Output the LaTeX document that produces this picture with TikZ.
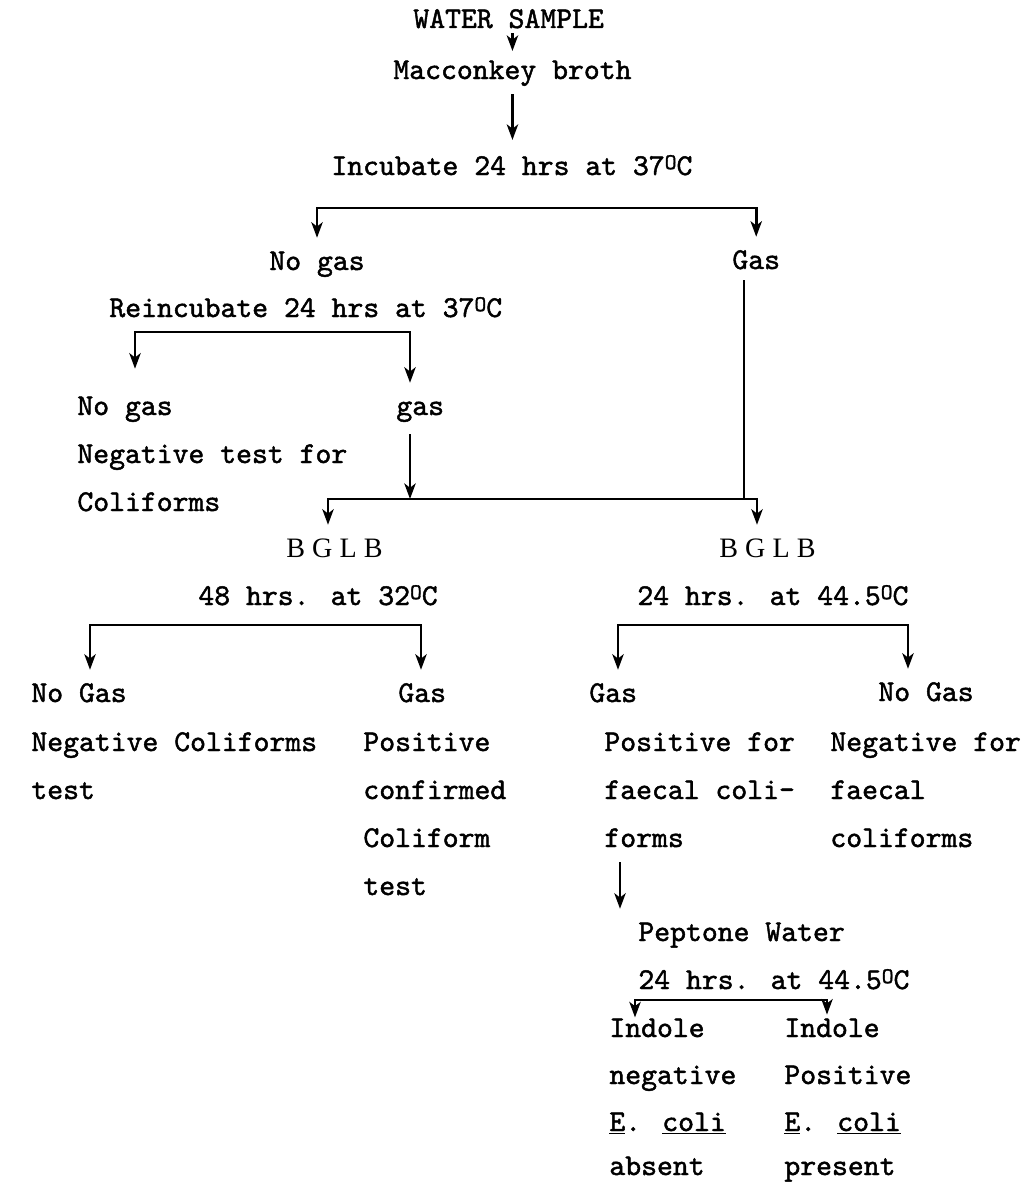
\documentclass[tikz,border=0pt]{standalone}
\usepackage{fontspec}
\usetikzlibrary{arrows.meta}
\newfontfamily\twfont[Extension=.otf, FakeBold=1.5]{lmmono10-regular}
\newfontfamily\rmserif{Liberation Serif}
\newcommand\typew{\twfont\fontsize{21.5}{22}\selectfont}
\newcommand\typer{\rmserif\fontsize{20}{22}\selectfont}
\newcommand\degC{\raisebox{0.45ex}{\fontsize{16}{16}\selectfont O}C}

\begin{document}
\begin{tikzpicture}[
  x=0.025cm, y=-0.025cm,
  txt/.style={anchor=base west, inner xsep=0pt, inner ysep=0.12cm, text height=0.65cm, text depth=0.12cm, font=\typew},
  bglb/.style={txt, font=\typer},
  line width=2pt,
  >={Stealth[length=11pt,width=8pt,inset=3pt]}
]
\useasboundingbox (0,0) rectangle (1026,1183);

% presumptive test
\node[txt] (water) at (412,28) {WATER SAMPLE};
\node[txt] (macc) at (392,79) {Macconkey broth};
\node[txt] (incub) at (330,175) {Incubate 24 hrs at 37\degC};
\node[txt] (nogasA) at (268,270) {No gas};
\node[txt] (gasA) at (731,269) {Gas};
\node[txt] (reinc) at (108,317) {Reincubate 24 hrs at 37\degC};
\node[txt] (nogasB) at (76,415) {No gas};
\node[txt] (gasB) at (395,415) {gas};
\node[txt] (negB1) at (76,463) {Negative test for};
\node[txt] (negB2) at (76,511) {Coliforms};

% confirmed test
\node[bglb] (bglbL) at (285,557) {B G L B};
\node[bglb] (bglbR) at (718,557) {B G L B};
\node[txt] (hrsL) at (197,605) {48 hrs. at 32\degC};
\node[txt] (hrsR) at (636,605) {24 hrs. at 44.5\degC};
\node[txt] (nogasC) at (30,702) {No Gas};
\node[txt] (gasC) at (397,702) {Gas};
\node[txt] (gasD) at (588,702) {Gas};
\node[txt] (nogasD) at (877,701) {No Gas};
\node[txt] (negC1) at (30,751) {Negative Coliforms};
\node[txt] (negC2) at (30,799) {test};
\node[txt] (posC1) at (362,751) {Positive};
\node[txt] (posC2) at (362,799) {confirmed};
\node[txt] (posC3) at (362,847) {Coliform};
\node[txt] (posC4) at (362,895) {test};
\node[txt] (posD1) at (603,751) {Positive for};
\node[txt] (posD2) at (603,799) {faecal coli-};
\node[txt] (posD3) at (603,847) {forms};
\node[txt] (negD1) at (829,751) {Negative for};
\node[txt] (negD2) at (829,799) {faecal};
\node[txt] (negD3) at (829,847) {coliforms};

% indole test
\node[txt] (pept) at (637,941) {Peptone Water};
\node[txt] (hrsP) at (637,989) {24 hrs. at 44.5\degC};
\node[txt] (indN1) at (608,1037) {Indole};
\node[txt] (indN2) at (608,1084) {negative};
\node[txt] (indN3) at (608,1131) {\underline{E}. \underline{coli}};
\node[txt] (indN4) at (608,1175) {absent};
\node[txt] (indP1) at (783,1037) {Indole};
\node[txt] (indP2) at (783,1084) {Positive};
\node[txt] (indP3) at (783,1131) {\underline{E}. \underline{coli}};
\node[txt] (indP4) at (783,1175) {present};

% split points
\coordinate (b2l) at (135,332);
\coordinate (b2r) at (410,332);
\coordinate (b4l) at (328,499);
\coordinate (b4m) at (410,499);
\coordinate (b4g) at (744,499);
\coordinate (b4r) at (757,499);
\coordinate (b5l) at (90,625);
\coordinate (b5r) at (421,625);
\coordinate (b6l) at (618,625);
\coordinate (b6r) at (908,625);
\coordinate (pdrop) at (620,900);
\coordinate (b7l) at (635,1000);
\coordinate (b7r) at (827,1000);

\draw[->, shorten <=-4pt, shorten >=-3pt] (water.south -| macc.north) -- (macc.north);
\draw[->, shorten <=3pt, shorten >=2pt] (macc.south) -- (macc.south |- incub.north);
\draw[<->] (nogasA.north) |- (gasA.north |- 0,208) -- (gasA.north);
\draw[<->, shorten <=10pt] (b2l |- nogasB.north) -- (b2l) -- (b2r) -- (b2r |- gasB.north);
\draw[->, shorten <=6pt] (gasB.south -| b4m) -- (b4m);
\draw (gasA.south -| b4g) -- (b4g);
\draw[<->] (b4l |- bglbL.north) -- (b4l) -- (b4r) -- (b4r |- bglbR.north);
\draw[<->] (b5l |- nogasC.north) -- (b5l) -- (b5r) -- (b5r |- gasC.north);
\draw[<->] (b6l |- gasD.north) -- (b6l) -- (b6r) -- (b6r |- nogasD.north);
\draw[->, shorten <=3pt] (posD3.south -| pdrop) -- (pdrop |- pept.north);
\draw[<->, shorten <=-9pt, shorten >=-7pt] (b7l |- indN1.north) -- (b7l) -- (b7r) -- (b7r |- indP1.north);
\end{tikzpicture}
\end{document}
